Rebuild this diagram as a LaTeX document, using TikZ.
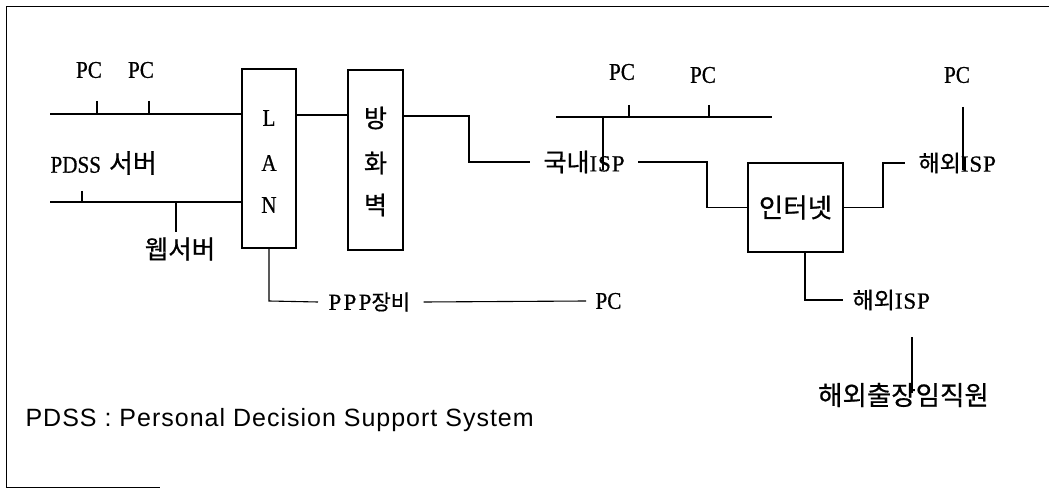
\documentclass[tikz,border=0pt]{standalone}
\usepackage{fontspec}
\setmainfont[FakeStretch=0.88,FakeBold=0.6]{Liberation Serif}
\newfontfamily\kr[FakeBold=0.6]{Noto Sans CJK KR}
\newfontfamily\sansf[LetterSpace=4]{Liberation Sans}
\newfontfamily\spc[FakeBold=0.6,LetterSpace=4]{Liberation Serif}
\newfontfamily\spcw[FakeBold=0.6,LetterSpace=10]{Liberation Serif}
\newcommand{\krs}[2]{{\kr\fontsize{#1}{#1}\selectfont #2}}
\begin{document}
\begin{tikzpicture}[x=1pt,y=-1pt,line width=1.1pt,
  every node/.style={inner sep=0pt},
  lbl/.style={font=\fontsize{24}{24}\selectfont},
  slbl/.style={font=\spc\fontsize{23}{23}\selectfont},
  box/.style={draw,line width=1.1pt,inner sep=0pt}]
\useasboundingbox (0,0) rectangle (1049,494);
% frame
\draw[line width=0.9pt] (1049,6) -- (6,6) -- (6,487) -- (160,487);
% LAN and firewall boxes
\node[box,minimum width=54pt,minimum height=179pt] (lan) at (269,158.5) {};
\node[lbl] (lanL) at (269,118) {L};
\node[lbl] (lanA) at (269,163) {A};
\node[lbl] (lanN) at (269,205) {N};
\node[box,minimum width=55pt,minimum height=180pt] (fw) at (375.5,160) {};
\node (fw1) at (375.5,118) {\krs{25}{방}};
\node (fw2) at (375.5,163) {\krs{25}{화}};
\node (fw3) at (375.5,205) {\krs{25}{벽}};
\node[box,minimum width=95pt,minimum height=89pt] (net) at (795.5,207.5) {\krs{26.5}{인터넷}};
% left side
\node[lbl] (pc1) at (89,70) {PC};
\node[lbl] (pc2) at (141,70) {PC};
\node[lbl,anchor=west] (pdss) at (50,163) {PDSS\hspace{8pt}\krs{26}{서버}};
\node (web) at (180,249) {\krs{25.5}{웹서버}};
\coordinate (b1s) at (50,114);
\coordinate (t1a) at (97,101);
\coordinate (t1b) at (149,101);
\draw (b1s) -- (b1s -| lan.west);
\draw (t1a) -- (t1a |- b1s);
\draw (t1b) -- (t1b |- b1s);
\coordinate (b2s) at (50,202);
\coordinate (t2a) at (82,191);
\coordinate (t2b) at (176,232);
\draw (b2s) -- (b2s -| lan.west);
\draw (t2a) -- (t2a |- b2s);
\draw (t2b) -- (t2b |- b2s);
% LAN - firewall
\coordinate (lf) at (0,115);
\draw (lf -| lan.east) -- (lf -| fw.west);
% firewall - domestic ISP
\node[slbl,anchor=west] (kisp) at (543,162) {\krs{25}{국내}ISP};
\coordinate (k1) at (469,116);
\draw (k1 -| fw.east) -- (k1) -- (k1 |- kisp) -- ([xshift=-13pt]kisp.west);
% PC bus right middle
\node[lbl] (pc3) at (622,72) {PC};
\node[lbl] (pc4) at (703,75) {PC};
\coordinate (b3s) at (556,117);
\coordinate (b3e) at (772,117);
\coordinate (t3a) at (629,105);
\coordinate (t3b) at (709,105);
\coordinate (v3) at (603,170);
\draw (b3s) -- (b3e);
\draw (t3a) -- (t3a |- b3s);
\draw (t3b) -- (t3b |- b3s);
\draw (v3 |- b3s) -- (v3);
% domestic ISP - internet
\coordinate (k2) at (707,162);
\draw ([xshift=13pt]kisp.east) -- (k2) -- (k2 |- net.west) -- (net.west);
% internet - overseas ISP
\node[slbl,anchor=west] (oisp1) at (918,163) {\krs{23}{해외}ISP};
\coordinate (o1) at (883,207.5);
\draw (net.east) -- (o1) -- (o1 |- oisp1) -- ([xshift=-13pt]oisp1.west);
\node[lbl] (pc5) at (957,75) {PC};
\coordinate (t5a) at (963,107);
\coordinate (t5b) at (963,170);
\draw (t5a) -- (t5b);
% internet - overseas ISP (bottom)
\node[slbl,anchor=west] (oisp2) at (852,300) {\krs{23}{해외}ISP};
\coordinate (o2) at (805,300);
\draw (o2 |- net.south) -- (o2) -- ([xshift=-9pt]oisp2.west);
\node (staff) at (903.5,395) {\krs{26.5}{해외출장임직원}};
\coordinate (t6a) at (912,337);
\coordinate (t6b) at (912,393);
\draw (t6a) -- (t6b);
% LAN - PPP - PC
\node[anchor=west,font=\spcw\fontsize{23}{23}\selectfont] (ppp) at (328,302) {PPP\krs{21}{장비}};
\node[lbl,anchor=west] (pc6) at (595,301) {PC};
\coordinate (p1) at (269,301);
\draw (lan.south) -- (p1) -- ([xshift=-10pt]ppp.west);
\draw ([xshift=13pt]ppp.east) -- ([xshift=-9pt]pc6.west);
% legend
\node[anchor=west,font=\sansf\fontsize{25}{25}\selectfont] (legend) at (25,420) {PDSS : Personal Decision Support System};
\end{tikzpicture}
\end{document}
